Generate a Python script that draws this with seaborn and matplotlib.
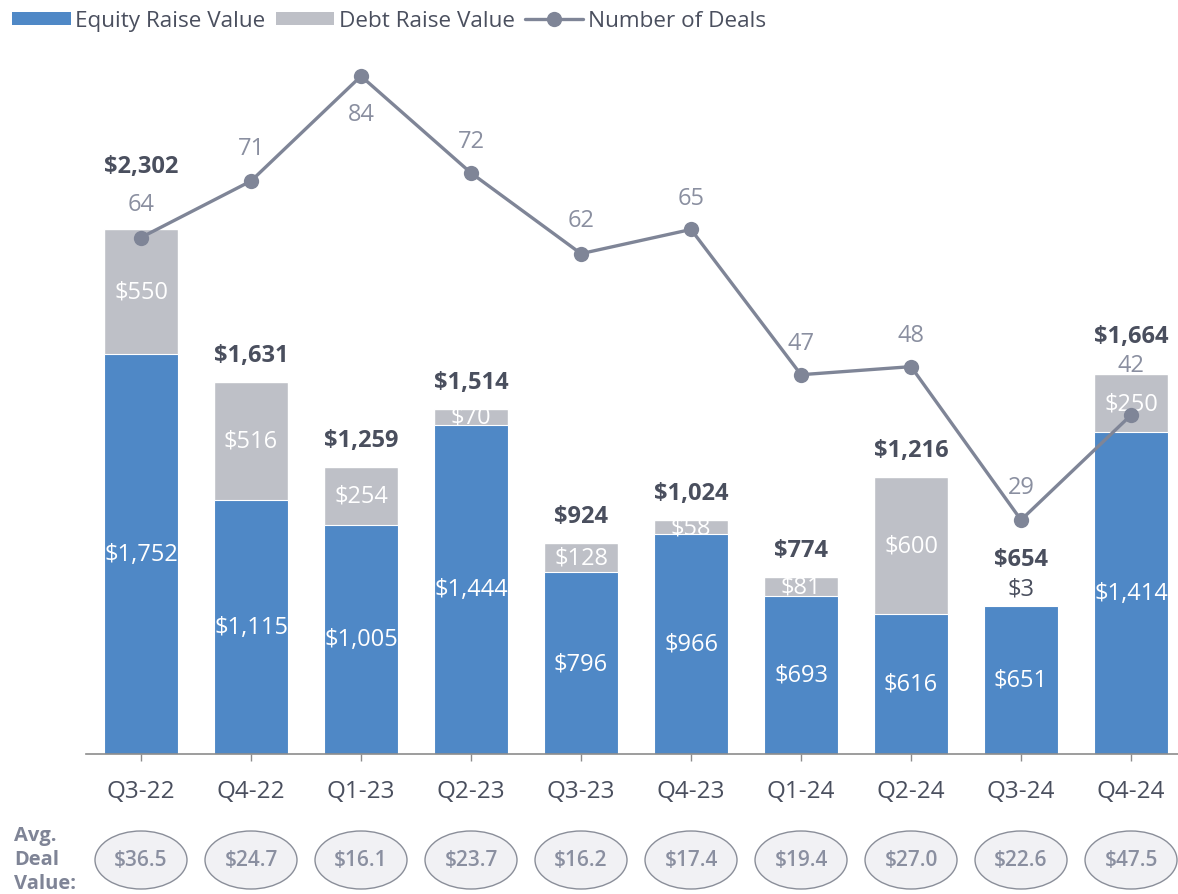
import numpy as np
import matplotlib
matplotlib.use("Agg")
import matplotlib.pyplot as plt
import matplotlib.transforms as mtransforms
from matplotlib.patches import Ellipse, Patch
from matplotlib.lines import Line2D
import seaborn as sns

# ---- data ----
quarters = ["Q3-22", "Q4-22", "Q1-23", "Q2-23", "Q3-23",
            "Q4-23", "Q1-24", "Q2-24", "Q3-24", "Q4-24"]
equity = [1752, 1115, 1005, 1444, 796, 966, 693, 616, 651, 1414]
debt = [550, 516, 254, 70, 128, 58, 81, 600, 3, 250]
totals = [2302, 1631, 1259, 1514, 924, 1024, 774, 1216, 654, 1664]
deals = [64, 71, 84, 72, 62, 65, 47, 48, 29, 42]
avg_deal = [36.5, 24.7, 16.1, 23.7, 16.2, 17.4, 19.4, 27.0, 22.6, 47.5]

# ---- style ----
BLUE = "#4F88C6"
GREY = "#BEC0C7"
LINE = "#7F8597"
DARK = "#4A4F5E"
MUTED = "#8A8FA0"

sns.set_theme(style="white")
plt.rcParams["font.family"] = ["Open Sans", "DejaVu Sans"]

fig = plt.figure(figsize=(11.78, 8.95), dpi=100)
ax = fig.add_axes([86 / 1178, 140 / 895, (1178 - 86) / 1178, 715 / 895])

# stacked bars: full total in grey, equity in blue on top of it
sns.barplot(x=quarters, y=totals, color=GREY, width=0.68, saturation=1,
            ax=ax, zorder=1)
sns.barplot(x=quarters, y=equity, color=BLUE, width=0.68, saturation=1,
            ax=ax, zorder=2, edgecolor="white", linewidth=0.8)

ax.set_xlim(-0.5, 9.427)
ax.set_ylim(0, 3135)
ax.set_yticks([])
ax.set_ylabel("")
for s in ["top", "right", "left"]:
    ax.spines[s].set_visible(False)
ax.spines["bottom"].set_color("#8C8C8C")
ax.spines["bottom"].set_linewidth(1.2)
ax.tick_params(axis="x", bottom=True, length=5, width=1, color="#8C8C8C",
               pad=13, labelsize=17.5, labelcolor=DARK)

pos = np.arange(len(quarters))
fs = 17

# value labels inside the segments
for i in pos:
    ax.text(i, equity[i] / 2, f"${equity[i]:,}", ha="center", va="center",
            color="white", fontsize=fs, zorder=5)
    if debt[i] >= 20:
        ax.text(i, equity[i] + debt[i] / 2, f"${debt[i]:,}", ha="center",
                va="center", color="white", fontsize=fs, zorder=5)
    else:
        ax.annotate(f"${debt[i]:,}", (i, totals[i]), xytext=(0, 12),
                    textcoords="offset points", ha="center", va="center",
                    color=DARK, fontsize=fs, zorder=5)

# bold totals above the bars (pt offsets)
total_offsets = [45, 19.5, 19.5, 19.5, 19.5, 19.5, 19.5, 19.5, 33, 27.5]
for i in pos:
    ax.annotate(f"${totals[i]:,}", (i, totals[i]),
                xytext=(0, total_offsets[i]), textcoords="offset points",
                ha="center", va="center", color=DARK, fontsize=fs,
                fontweight="bold", zorder=6)

# number of deals on a secondary axis
ax2 = ax.twinx()
sns.lineplot(x=pos, y=deals, ax=ax2, color=LINE, linewidth=2.4,
             marker="o", markersize=11, markeredgewidth=0, sort=False,
             zorder=4)
ax2.set_ylim(0, 88.6)
ax2.set_xlim(ax.get_xlim())
ax2.set_yticks([])
ax2.set_ylabel("")
for s in ax2.spines.values():
    s.set_visible(False)

deal_offsets = [24, 24, -27, 23, 24, 23, 23, 23, 24, 36]
for i in pos:
    ax2.annotate(str(deals[i]), (i, deals[i]), xytext=(0, deal_offsets[i]),
                 textcoords="offset points", ha="center", va="center",
                 color=MUTED, fontsize=fs, zorder=6)

# average deal value row below the axis
trans = mtransforms.blended_transform_factory(ax.transData, fig.transFigure)
yc = (895 - 861) / 895
for i in pos:
    e = Ellipse((i, yc), width=92 / 110, height=58 / 895, transform=trans,
                facecolor="#F1F1F4", edgecolor="#8A8E99", linewidth=1.0,
                clip_on=False, zorder=10)
    ax2.add_artist(e)
    ax2.text(i, yc, f"${avg_deal[i]:.1f}", transform=trans, ha="center",
             va="center", color=MUTED, fontsize=15, fontweight="semibold",
             clip_on=False, zorder=11)

for txt, ypix in [("Avg.", 836), ("Deal", 860), ("Value:", 884)]:
    fig.text(14 / 1178, (895 - ypix) / 895, txt, ha="left", va="center",
             color="#7F8496", fontsize=14.5, fontweight="bold")

# legend
handles = [
    Patch(facecolor=BLUE, edgecolor="none", label="Equity Raise Value"),
    Patch(facecolor=GREY, edgecolor="none", label="Debt Raise Value"),
    Line2D([0], [0], color=LINE, linewidth=2.4, marker="o", markersize=11,
           markeredgewidth=0, label="Number of Deals"),
]
fig.legend(handles=handles, loc="upper left", bbox_to_anchor=(-0.003, 1.005),
           ncol=3, frameon=False, fontsize=16.2, handlelength=2.6,
           handleheight=0.5, handletextpad=0.2, columnspacing=0.45,
           labelcolor=DARK, borderaxespad=0.3)

fig.savefig("out.png", dpi=100)
